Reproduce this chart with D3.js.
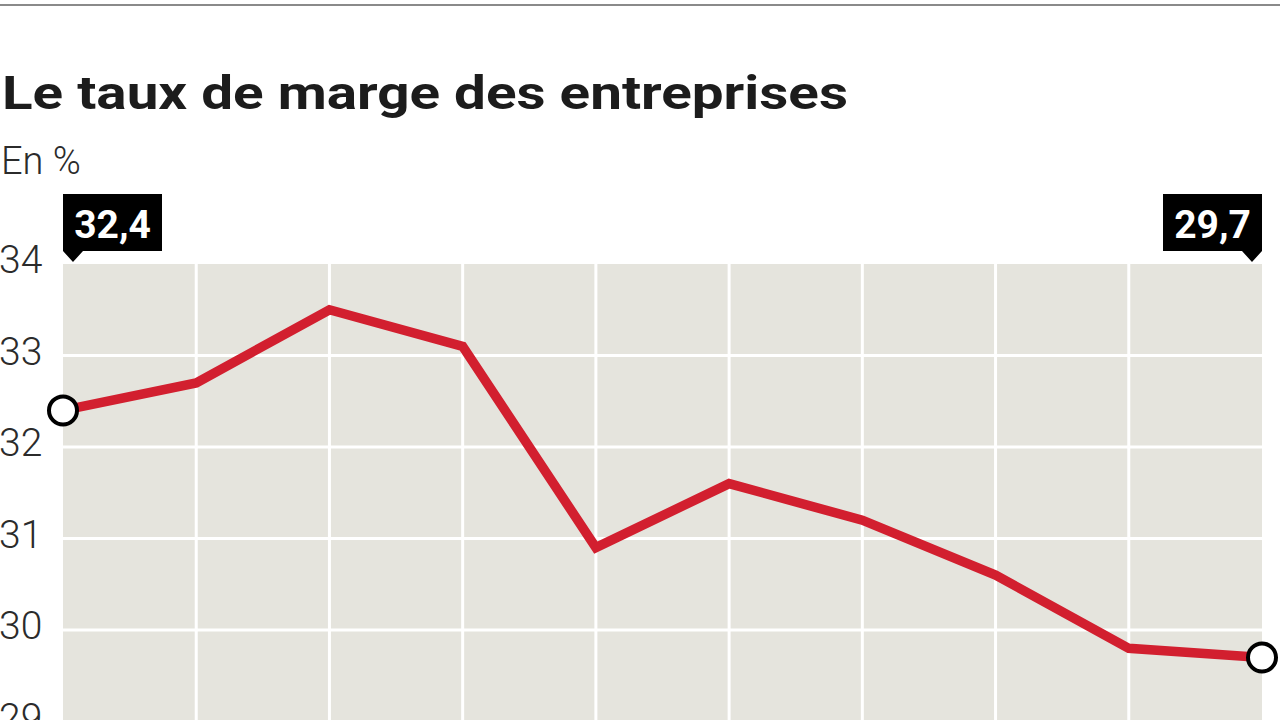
<!DOCTYPE html>
<html>
<head>
<meta charset="utf-8">
<script src="https://cdn.jsdelivr.net/npm/d3@7"></script>
<style>
  body { margin: 0; background: #fff; }
  svg { display: block; }
</style>
</head>
<body>
<svg id="chart" width="1280" height="720"></svg>
<script>
/*------------------------
  -------- DATA ----------
  ------------------------*/
var periods = ["p0", "p1", "p2", "p3", "p4", "p5", "p6", "p7", "p8", "p9"];
var margin_rate = [32.4, 32.7, 33.5, 33.1, 30.9, 31.6, 31.2, 30.6, 29.8, 29.7];
var y_ticks = [34, 33, 32, 31, 30, 29];
var title_txt = "Le taux de marge des entreprises";
var unit_txt = "En %";

var svg = d3.select("#chart");

var x = d3.scalePoint().domain(d3.range(periods.length)).range([63, 1262]);
var y = d3.scaleLinear().domain([30, 34]).range([630, 264]);

function fmt(v) { return d3.format(".1f")(v).replace(".", ","); }

/*---------------------
  ----- HEADER ------
  ---------------------*/
svg.append("line")
    .attr("x1", 0).attr("x2", 1280)
    .attr("y1", 5).attr("y2", 5)
    .attr("stroke", "#8a8a8a").attr("stroke-width", 2);

var title = svg.append("text")
    .attr("x", 2).attr("y", 109)
    .attr("font-family", "Roboto, sans-serif")
    .attr("font-weight", 700)
    .attr("font-size", 46)
    .attr("fill", "#1c1c1c")
    .text(title_txt);
// stretch to the width of the original title
title.attr("textLength", 846).attr("lengthAdjust", "spacingAndGlyphs");

svg.append("text")
    .attr("x", 1).attr("y", 174)
    .attr("font-family", "Roboto, sans-serif")
    .attr("font-weight", 300)
    .attr("font-size", 38)
    .attr("fill", "#2b2b2b")
    .text(unit_txt);

/*---------------------
  ----- PLOT AREA -----
  ---------------------*/
svg.append("rect")
    .attr("x", x(0)).attr("y", y(34))
    .attr("width", x(periods.length - 1) - x(0))
    .attr("height", 720 - y(34) + 10)
    .attr("fill", "#e5e4dd");

svg.append("g")
    .selectAll("line")
    .data(d3.range(1, periods.length - 1))
    .enter().append("line")
    .attr("x1", x).attr("x2", x)
    .attr("y1", y(34)).attr("y2", 730)
    .attr("stroke", "#fff").attr("stroke-width", 3);

svg.append("g")
    .selectAll("line")
    .data(y_ticks.filter(function(t) { return t < 34; }))
    .enter().append("line")
    .attr("x1", x(0)).attr("x2", x(periods.length - 1))
    .attr("y1", y).attr("y2", y)
    .attr("stroke", "#fff").attr("stroke-width", 3);

svg.append("g")
    .selectAll("text")
    .data(y_ticks)
    .enter().append("text")
    .attr("x", -1)
    .attr("y", function(t) { return y(t) - 1; })
    .attr("dominant-baseline", "middle")
    .attr("font-family", "Roboto, sans-serif")
    .attr("font-weight", 300)
    .attr("font-size", 39)
    .attr("fill", "#2b2b2b")
    .text(function(t) { return t; });

/*---------------------
  ------ SERIES -------
  ---------------------*/
var line = d3.line()
    .x(function(d, i) { return x(i); })
    .y(function(d) { return y(d); });

svg.append("path")
    .datum(margin_rate)
    .attr("d", line)
    .attr("fill", "none")
    .attr("stroke", "#d21f2f")
    .attr("stroke-width", 9.5)
    .attr("stroke-linejoin", "miter");

var ends = [0, margin_rate.length - 1];

svg.append("g")
    .selectAll("circle")
    .data(ends)
    .enter().append("circle")
    .attr("cx", x)
    .attr("cy", function(i) { return y(margin_rate[i]); })
    .attr("r", 14)
    .attr("fill", "#fff")
    .attr("stroke", "#000")
    .attr("stroke-width", 4);

/*---------------------
  ----- CALLOUTS ------
  ---------------------*/
var box_w = 99, box_top = 194, box_bot = 251, tip_y = 262;

var callouts = svg.append("g")
    .selectAll("g")
    .data(ends)
    .enter().append("g");

callouts.append("path")
    .attr("fill", "#000")
    .attr("d", function(i) {
        var px = x(i);
        if (i === 0) {
            return "M" + px + "," + box_top + "H" + (px + box_w) + "V" + box_bot +
                "H" + (px + 20) + "L" + (px + 10) + "," + tip_y + "L" + px + "," + box_bot + "Z";
        }
        return "M" + (px - box_w) + "," + box_top + "H" + px + "V" + box_bot +
            "L" + (px - 10) + "," + tip_y + "L" + (px - 20) + "," + box_bot + "H" + (px - box_w) + "Z";
    });

callouts.append("text")
    .attr("x", function(i) { return i === 0 ? x(i) + box_w / 2 : x(i) - box_w / 2; })
    .attr("y", 238)
    .attr("text-anchor", "middle")
    .attr("font-family", "Roboto, sans-serif")
    .attr("font-weight", 700)
    .attr("font-size", 39)
    .attr("fill", "#fff")
    .text(function(i) { return fmt(margin_rate[i]); });
</script>
</body>
</html>
